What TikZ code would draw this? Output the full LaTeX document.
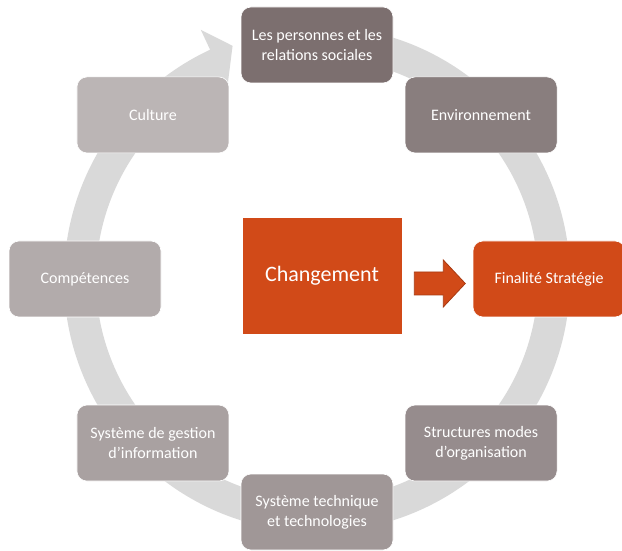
\documentclass[tikz,border=0pt]{standalone}
\usepackage{fontspec}
\setmainfont{Carlito}
\usetikzlibrary{calc}
\definecolor{ringgray}{RGB}{217,217,217}
\definecolor{boxA}{RGB}{124,111,111}
\definecolor{boxB}{RGB}{137,126,126}
\definecolor{boxC}{RGB}{150,140,141}
\definecolor{boxD}{RGB}{160,151,151}
\definecolor{boxE}{RGB}{169,161,161}
\definecolor{boxF}{RGB}{178,171,171}
\definecolor{boxG}{RGB}{187,181,181}
\definecolor{orangeA}{RGB}{209,74,24}
\definecolor{orangeB}{RGB}{168,58,18}
\begin{document}
\begin{tikzpicture}[x=1pt,y=1pt]
        \tikzset{item/.style={draw=white,line width=0.6pt,rounded corners=10pt,minimum width=152pt,minimum height=76pt,
            text=white,align=center,font=\fontsize{16}{20}\selectfont}}
        \useasboundingbox (0,0) rectangle (622,550);
        \coordinate (C) at (317,271);
        % ring with its head, one filled path
        \fill[ringgray] ($(C)+(85:253)$) arc[start angle=85,end angle=-245,radius=253]
            -- ($(C)+(115:275)$) -- ($(C)+(109.9:248)$) -- ($(C)+(115:212)$)
            -- ($(C)+(115:221)$) arc[start angle=-245,end angle=85,radius=221] -- cycle;
        % boxes on the ring
        \node[item,fill=boxA](pers) at ($(C)+(90:234)$) {Les personnes et les\\relations sociales};
        \node[item,fill=boxB](env) at ($(C)+(45:232)$) {Environnement};
        \node[item,fill=orangeA](fin) at ($(C)+(0:232)$) {Finalité Stratégie};
        \node[item,fill=boxC](struct) at ($(C)+(-45:232)$) {Structures modes\\d’organisation};
        \node[item,fill=boxD](tech) at ($(C)+(-90:233)$) {Système technique\\et technologies};
        \node[item,fill=boxE](gest) at ($(C)+(-135:232)$) {Système de gestion\\d’information};
        \node[item,fill=boxF](comp) at ($(C)+(180:232)$) {Compétences};
        \node[item,fill=boxG](cult) at ($(C)+(135:232)$) {Culture};
        % centre
        \node[fill=orangeA,draw=white,line width=0.6pt,minimum width=160pt,minimum height=117pt,text=white,
            font=\fontsize{22}{26}\selectfont](chg) at (322,274.5) {Changement};
        \coordinate (s) at ($(chg.east)+(12,-8)$);
        \filldraw[fill=orangeA,draw=orangeB,line width=0.8pt] (s) ++(0,11.5) -- ++(29,0) -- ++(0,12) -- ++(22,-23.5)
            -- ++(-22,-23.5) -- ++(0,12) -- ++(-29,0) -- cycle;
    \end{tikzpicture}
\end{document}
